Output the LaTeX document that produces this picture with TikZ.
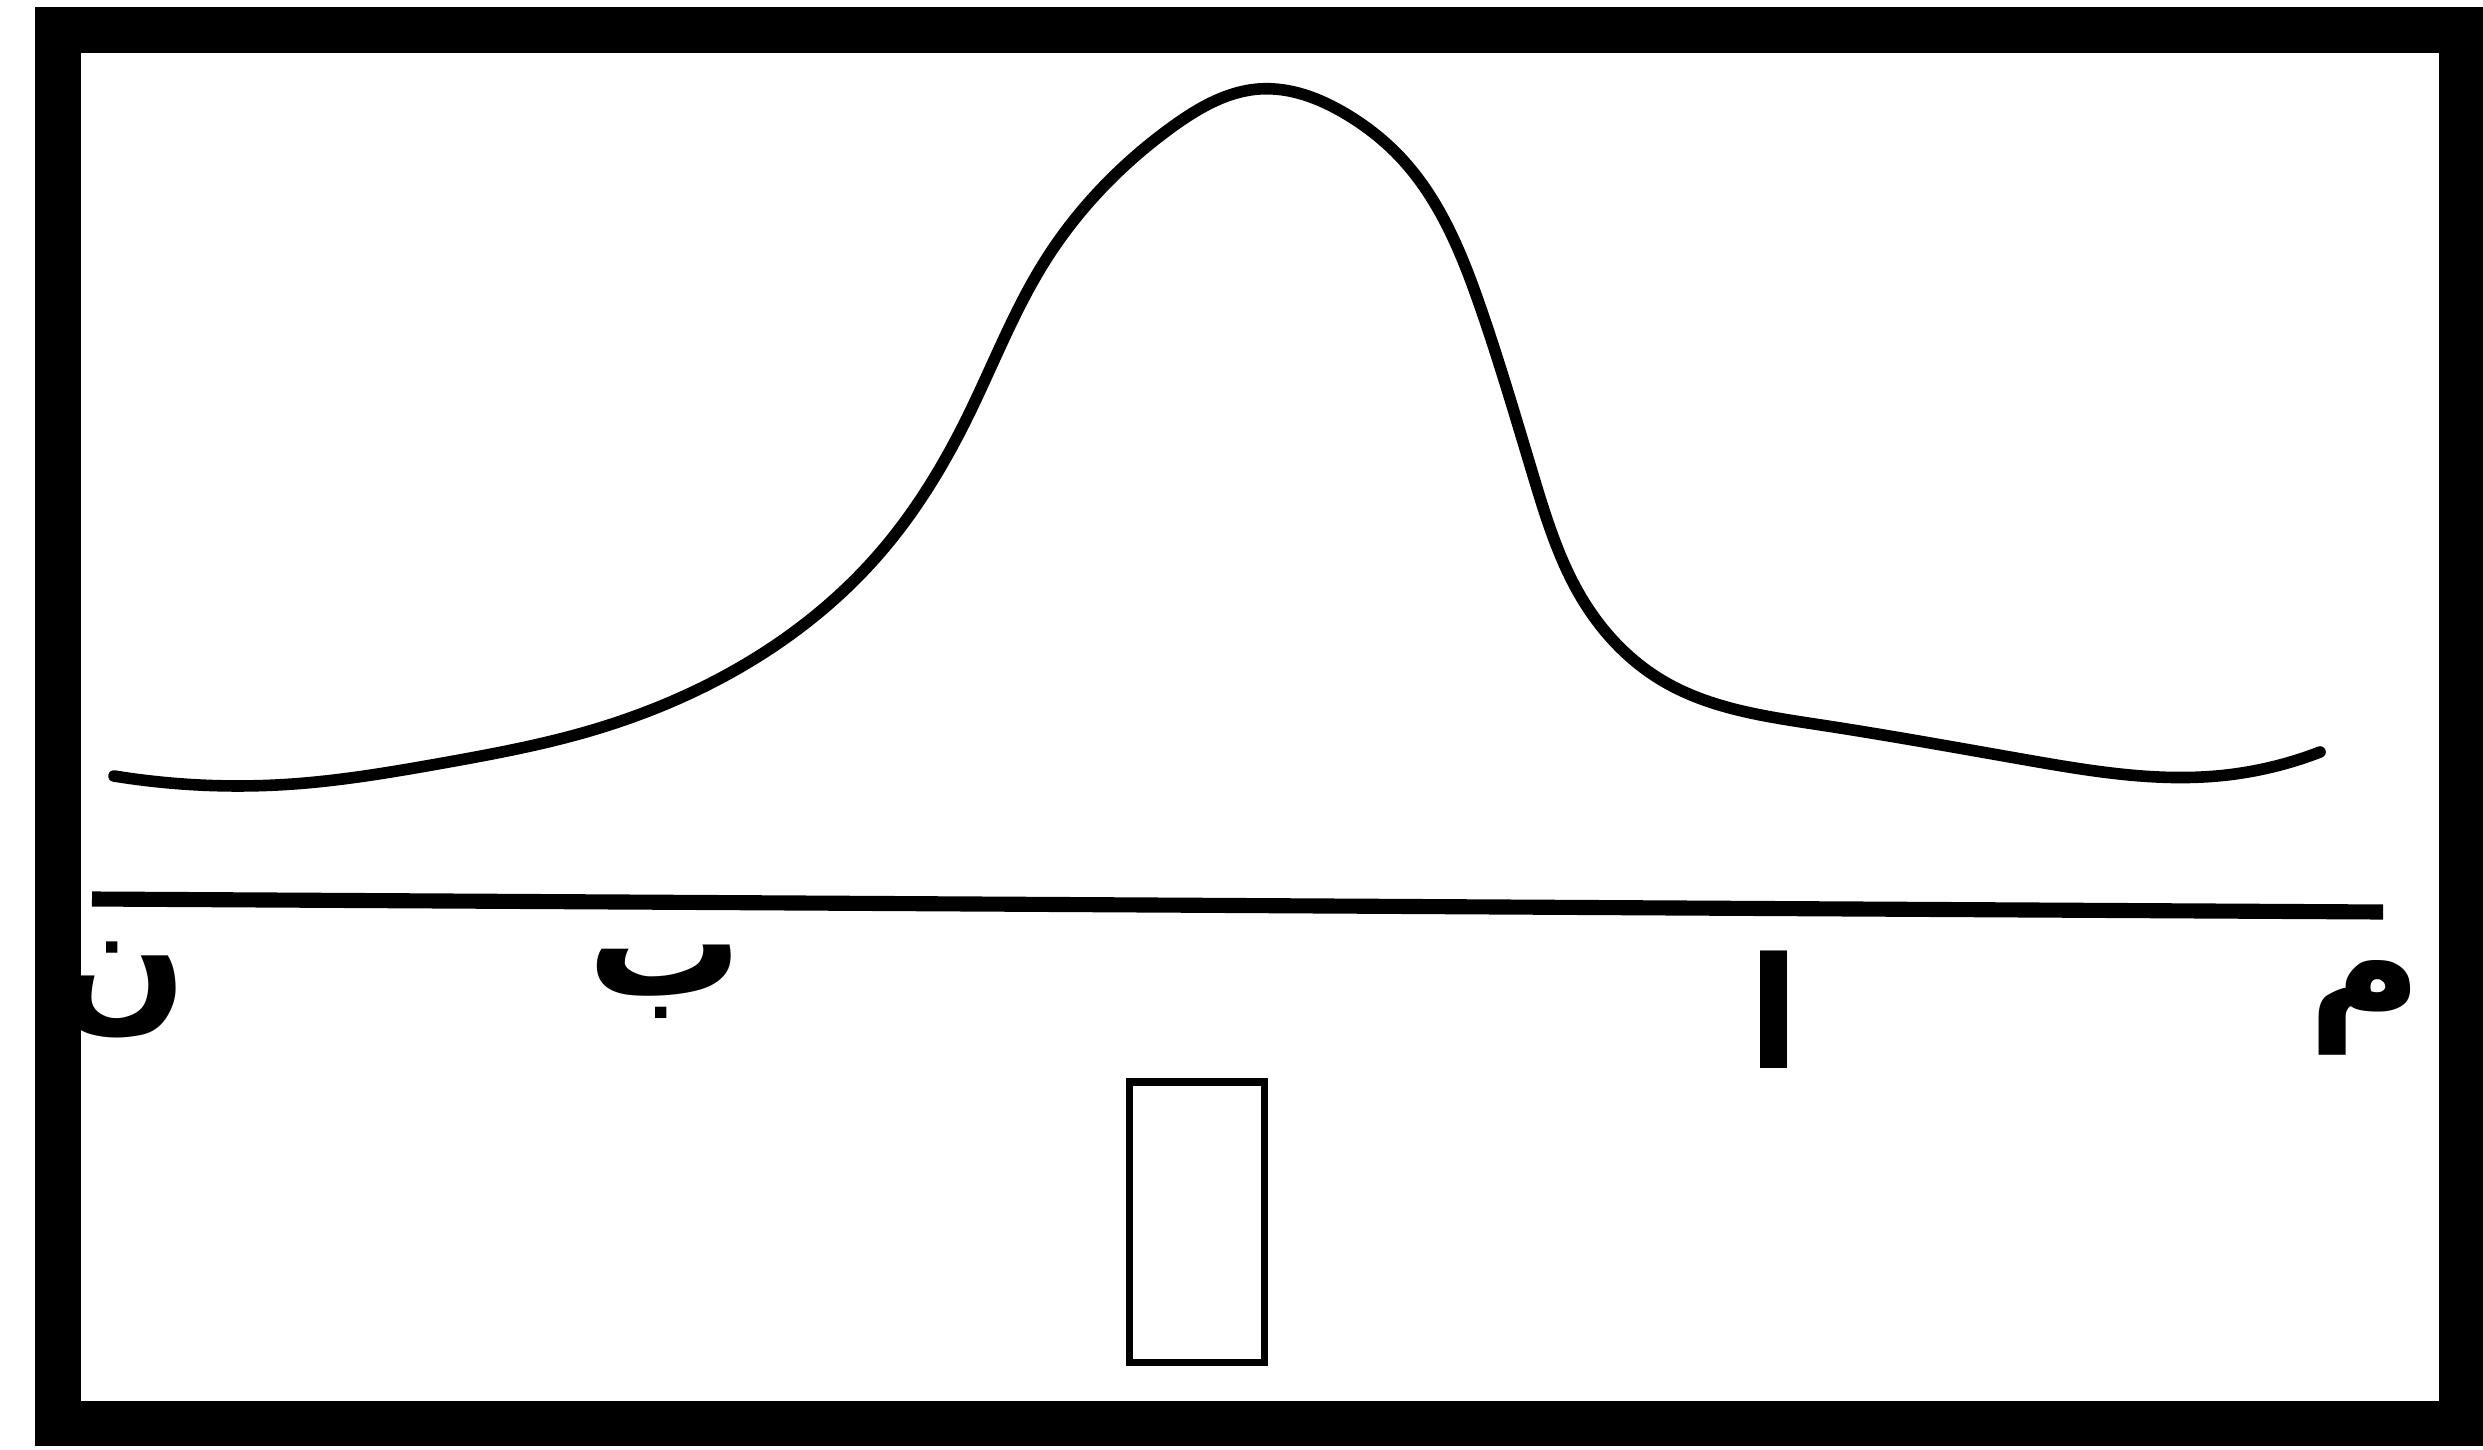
\documentclass[tikz,border=0pt]{standalone}
\usepackage{fontspec}
\newfontfamily\arabicfont[Script=Arabic]{DejaVu Sans}
\TeXXeTstate=1
\usetikzlibrary{positioning,hobby}

\begin{document}
\begin{tikzpicture}[
  x=0.01cm,y=-0.01cm,
  line cap=butt,line join=miter,
  frame/.style={draw=black,line width=4.5mm},
  axis/.style={draw=black,line width=4.3pt},
  bell/.style={draw=black,line width=3.3pt,line cap=round,line join=round},
  letter/.style={font=\arabicfont\bfseries\fontsize{44}{44}\selectfont,inner sep=0pt}
]
\useasboundingbox (0,0) rectangle (2483,1449);
% outer frame
\draw[frame] (58,30) rectangle (2461,1423);
% bell curve
\draw[bell,use Hobby shortcut] (114,776) .. (293,784) .. (443,763)
  .. (586,732) .. (744,665) .. (879,554) .. (966,420) .. (1045,261)
  .. (1172,127) .. (1259,89) .. (1346,114) .. (1401,158) .. (1481,309)
  .. (1533,475) .. (1584,602) .. (1663,681) .. (1821,725) .. (2027,760)
  .. (2217,776) .. (2320,752);
% base line
\coordinate (left) at (92,899);
\coordinate (right) at (2383,912);
\draw[axis] (left) -- (right);
% letters under the line
\node[letter] (nun) at (122,990) {\beginR ن\endR};
\node[letter] (ba) at (665,982) {\beginR ب\endR};
\node[letter] (alif) at (1774,1010) {\beginR ا\endR};
\node[letter] (mim) at (2365,1008) {\beginR م\endR};
% small rectangle
\draw[line width=2pt] (1129,1082) rectangle (1264,1362);
\end{tikzpicture}
\end{document}
